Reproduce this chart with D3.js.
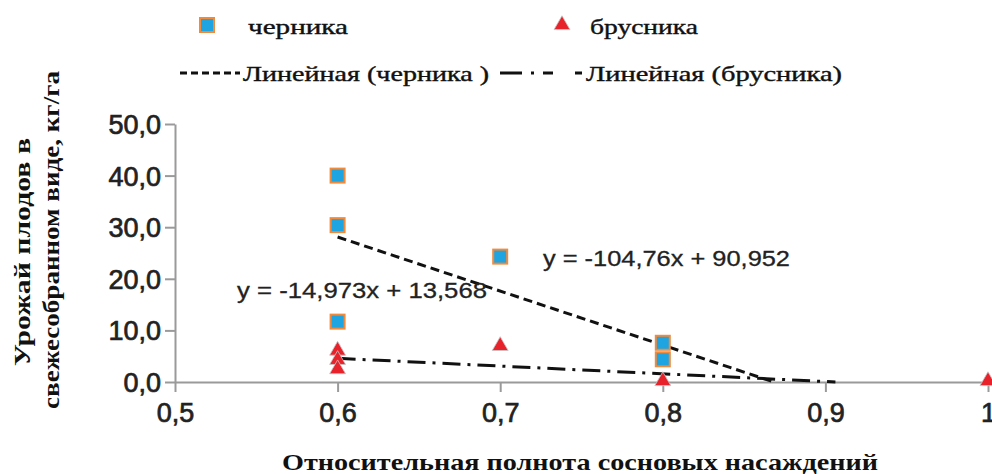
<!DOCTYPE html>
<html><head><meta charset="utf-8">
<script src="https://cdn.jsdelivr.net/npm/d3@7"></script>
<style>body{margin:0;background:#fff}svg{display:block}</style>
</head><body>
<svg id="c" width="992" height="474"></svg>
<script>
const chernikaX = [0.6, 0.6, 0.6, 0.7, 0.8, 0.8];
const chernikaY = [40.0, 30.4, 11.7, 24.3, 7.6, 4.4];
const brusnikaX = [0.6, 0.6, 0.6, 0.7, 0.8, 1.0];
const brusnikaY = [5.9, 4.1, 2.3, 6.8, 0.0, 0.0];
const trendChernika = {slope: -104.76, intercept: 90.952, from: 0.6};
const trendBrusnika = {slope: -14.973, intercept: 13.568, from: 0.6};
const xTicks = [0.5, 0.6, 0.7, 0.8, 0.9, 1.0];
const yTicks = [0, 10, 20, 30, 40, 50];
const seriesNames = ["черника", "брусника", "Линейная (черника )", "Линейная (брусника)"];
const eqLabels = ["y = -104,76x + 90,952", "y = -14,973x + 13,568"];
const xTitle = "Относительная полнота сосновых насаждений";
const yTitle = ["Урожай плодов в", "свежесобранном виде, кг/га"];

const svg = d3.select("#c");
const x = d3.scaleLinear().domain([0.5, 1.0]).range([175, 988]);
const y = d3.scaleLinear().domain([0, 50]).range([382, 124]);
const fmtX = d => d === 1 ? "1" : d3.format(".1f")(d).replace(".", ",");
const fmtY = d => d3.format(".1f")(d).replace(".", ",");
const tickFont = "'Liberation Sans', Arial, sans-serif";
const serif = "'Liberation Serif', 'DejaVu Serif', serif";

// axes
const gx = svg.append("g").attr("transform", "translate(0,382)")
  .call(d3.axisBottom(x).tickValues(xTicks).tickFormat(fmtX).tickSize(10).tickSizeOuter(0));
const gy = svg.append("g").attr("transform", "translate(175,0)")
  .call(d3.axisLeft(y).tickValues(yTicks).tickFormat(fmtY).tickSize(10).tickSizeOuter(0));
[gx, gy].forEach(g => {
  g.select(".domain").attr("stroke", "#9a9a9a").attr("stroke-width", 2);
  g.selectAll(".tick line").attr("stroke", "#9a9a9a").attr("stroke-width", 2);
  g.selectAll("text").attr("font-family", tickFont).attr("font-size", 27).attr("fill", "#222")
    .attr("stroke", "#222").attr("stroke-width", 0.7);
});
gx.selectAll("text").attr("dy", "1.0em");
gy.selectAll("text").attr("dx", "-1px").attr("dy", "0.35em");

// trendlines
function trendEnd(t){ return Math.min(1.0, -t.intercept / t.slope); }
const line = d3.line().x(d => x(d[0])).y(d => y(d[1]));
[[trendChernika, "9,5"], [trendBrusnika, "18,7,3,7"]].forEach(([t, dash]) => {
  const e = trendEnd(t);
  svg.append("path")
    .attr("d", line([[t.from, t.slope * t.from + t.intercept], [e, t.slope * e + t.intercept]]))
    .attr("fill", "none").attr("stroke", "#111").attr("stroke-width", 3)
    .attr("stroke-dasharray", dash);
});

// equation labels
svg.append("text").attr("x", 543).attr("y", 266).text(eqLabels[0])
  .attr("font-family", tickFont).attr("font-size", 22).attr("fill", "#222")
  .attr("stroke", "#222").attr("stroke-width", 0.3)
  .attr("textLength", 247).attr("lengthAdjust", "spacingAndGlyphs");
svg.append("text").attr("x", 237).attr("y", 298).text(eqLabels[1])
  .attr("font-family", tickFont).attr("font-size", 22).attr("fill", "#222")
  .attr("stroke", "#222").attr("stroke-width", 0.3)
  .attr("textLength", 250).attr("lengthAdjust", "spacingAndGlyphs");

// points
const sq = 14;
svg.append("g").selectAll("rect").data(d3.zip(chernikaX, chernikaY)).join("rect")
  .attr("x", d => x(d[0]) - sq/2).attr("y", d => y(d[1]) - sq/2)
  .attr("width", sq).attr("height", sq)
  .attr("fill", "#1ea4e0").attr("stroke", "#f08a3c").attr("stroke-width", 2);
const tri = d3.symbol().type(d3.symbolTriangle).size(110);
svg.append("g").selectAll("path").data(d3.zip(brusnikaX, brusnikaY)).join("path")
  .attr("d", tri).attr("transform", d => `translate(${x(d[0])},${y(d[1]) - 1})`)
  .attr("fill", "#e8222a").attr("stroke", "#c8c8c8").attr("stroke-width", 0.8);

// legend
const lg = svg.append("g");
lg.append("rect").attr("x", 200).attr("y", 18).attr("width", sq).attr("height", sq)
  .attr("fill", "#1ea4e0").attr("stroke", "#f08a3c").attr("stroke-width", 2);
lg.append("path").attr("d", tri).attr("transform", "translate(562,25)")
  .attr("fill", "#e8222a").attr("stroke", "#c8c8c8").attr("stroke-width", 0.8);
lg.append("line").attr("x1", 180).attr("x2", 240).attr("y1", 73).attr("y2", 73)
  .attr("stroke", "#111").attr("stroke-width", 3).attr("stroke-dasharray", "7,4");
lg.append("line").attr("x1", 500).attr("x2", 582).attr("y1", 73).attr("y2", 73)
  .attr("stroke", "#111").attr("stroke-width", 3).attr("stroke-dasharray", "22,9,3,9,10");
const legText = [[248, 34, seriesNames[0], 100], [590, 34, seriesNames[1], 108],
                 [243, 81, seriesNames[2], 246], [586, 81, seriesNames[3], 256]];
legText.forEach(([lx, ly, t, w]) => {
  lg.append("text").attr("x", lx).attr("y", ly).text(t)
    .attr("font-family", serif).attr("font-size", 22).attr("fill", "#111")
    .attr("stroke", "#111").attr("stroke-width", 0.4)
    .attr("textLength", w).attr("lengthAdjust", "spacingAndGlyphs");
});

// axis titles
svg.append("text").attr("x", 580).attr("y", 470).attr("text-anchor", "middle").text(xTitle)
  .attr("font-family", serif).attr("font-weight", "bold").attr("font-size", 23).attr("fill", "#111")
  .attr("textLength", 596).attr("lengthAdjust", "spacingAndGlyphs");
svg.append("text").attr("transform", "translate(30,252) rotate(-90)").attr("text-anchor", "middle")
  .text(yTitle[0]).attr("font-family", serif).attr("font-weight", "bold").attr("font-size", 23)
  .attr("fill", "#111").attr("textLength", 228).attr("lengthAdjust", "spacingAndGlyphs");
svg.append("text").attr("transform", "translate(59,240) rotate(-90)").attr("text-anchor", "middle")
  .text(yTitle[1]).attr("font-family", serif).attr("font-weight", "bold").attr("font-size", 23)
  .attr("fill", "#111").attr("textLength", 338).attr("lengthAdjust", "spacingAndGlyphs");
</script>
</body></html>
